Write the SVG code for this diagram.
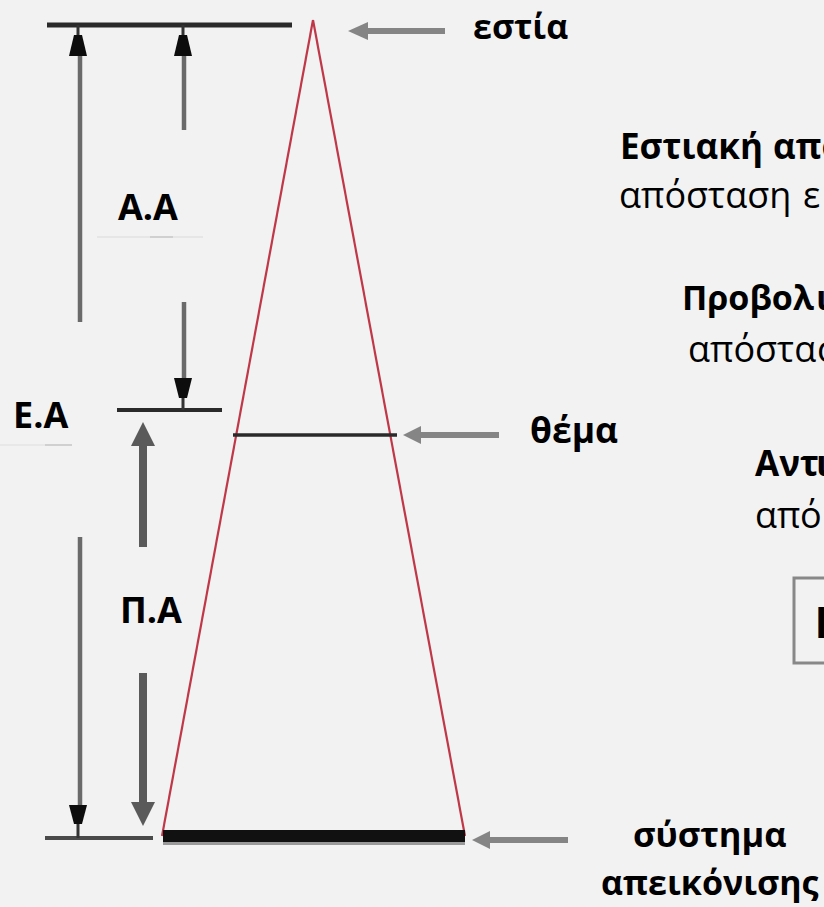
<svg xmlns="http://www.w3.org/2000/svg" width="824" height="907" viewBox="0 0 824 907">
<style>
.t{font-family:"Open Sans","Noto Sans","DejaVu Sans",sans-serif;fill:#000;font-size:34px}
.b{font-weight:bold}
.r{font-size:36px}
.lab{font-size:36px}
.ray{stroke:#c03848;stroke-width:2.2;fill:none}
.dim{stroke:#6a6a6a;stroke-width:4.5;fill:none}
.bar{stroke:#2a2a2a;fill:none}
.ptr{stroke:#858585;stroke-width:6;fill:none}
.ptrh{fill:#858585}
.big{stroke:#5a5a5a;stroke-width:8;fill:none}
.bigh{fill:#5a5a5a}
.head{fill:#0d0d0d}
</style>
<rect width="824" height="907" fill="#f2f2f2"/>
<g id="faint">
<line x1="97" y1="237" x2="203" y2="237" stroke="#e2e2e2" stroke-width="1.5"/>
<line x1="150" y1="237" x2="173" y2="237" stroke="#c8c8c8" stroke-width="1.5"/>
<line x1="0" y1="445" x2="72" y2="445" stroke="#e4e4e4" stroke-width="1.5"/>
<line x1="45" y1="445" x2="72" y2="445" stroke="#c8c8c8" stroke-width="1.5"/>
</g>
<g id="focus">
<line class="bar" x1="47" y1="25" x2="292" y2="25" stroke-width="5"/>
<text class="t b" x="473" y="39">εστία</text>
</g>
<g id="rays">
<line class="ray" x1="313" y1="20" x2="162" y2="836"/>
<line class="ray" x1="313" y1="20" x2="465" y2="836"/>
</g>
<g id="object">
<line class="bar" x1="233" y1="435" x2="397" y2="435" stroke-width="3.5"/>
<text class="t b" x="530" y="443" style="font-size:35.5px">θέμα</text>
</g>
<g id="object-level">
<line class="bar" x1="117" y1="410" x2="222" y2="410" stroke-width="4"/>
</g>
<g id="detector">
<rect x="163" y="830" width="302" height="12" fill="#111"/>
<rect x="163" y="842" width="302" height="3" fill="#9a9a9a"/>
<line x1="45" y1="838" x2="153" y2="838" stroke="#4a4a4a" stroke-width="4"/>
<text class="t b" x="633" y="847" style="font-size:34.5px">σύστημα</text>
<text class="t b" x="601" y="895">απεικόνισης</text>
</g>
<g id="labels">
<text class="t b lab" x="118" y="220">Α.Α</text>
<text class="t b lab" x="13" y="428">Ε.Α</text>
<text class="t b lab" x="120" y="623">Π.Α</text>
</g>
<g id="legend">
<text class="t b" x="620" y="159" style="font-size:35px">Εστιακή <tspan x="773">απο</tspan></text>
<text class="t r" x="619" y="208">απόσταση <tspan x="803">ε</tspan></text>
<text class="t b" x="682" y="310">Προβολ<tspan x="816">ι</tspan></text>
<text class="t r" x="688" y="362">απόστα<tspan x="817">σ</tspan></text>
<text class="t b" x="755" y="476" style="font-size:35px">Αντ<tspan x="816">ι</tspan></text>
<text class="t r" x="755" y="528">απ<tspan x="800">ό</tspan></text>
<rect x="794" y="578" width="60" height="85" fill="none" stroke="#888" stroke-width="3"/>
<text class="t b" x="814.5" y="638" style="font-size:43px">Ε</text>
</g>
<g id="connectors">
<line class="dim" x1="80" y1="40" x2="80" y2="322"/>
<line class="dim" x1="80" y1="537" x2="80" y2="815"/>
<line class="dim" x1="184" y1="40" x2="184" y2="130"/>
<line class="dim" x1="184" y1="302" x2="184" y2="395"/>
<line stroke="#333" stroke-width="3" x1="78" y1="25" x2="78" y2="40"/>
<line stroke="#333" stroke-width="3" x1="183" y1="25" x2="183" y2="40"/>
<line stroke="#333" stroke-width="3" x1="78" y1="820" x2="78" y2="838"/>
<line stroke="#333" stroke-width="3" x1="183" y1="396" x2="183" y2="410"/>
<path class="head" d="M74 35 L82 35 L87 56 L69 56 Z"/>
<path class="head" d="M179 35 L187 35 L192 56 L174 56 Z"/>
<path class="head" d="M69 805 L87 805 L82 824 L74 824 Z"/>
<path class="head" d="M174 378 L192 378 L187 398 L179 398 Z"/>
<line class="big" x1="143" y1="445" x2="143" y2="547"/>
<polygon class="bigh" points="143,422 131,446 155,446"/>
<line class="big" x1="143" y1="673" x2="143" y2="803"/>
<polygon class="bigh" points="131,802 155,802 143,826"/>
<line class="ptr" x1="366" y1="31" x2="445" y2="31"/>
<polygon class="ptrh" points="348,31 368,22 368,40"/>
<line class="ptr" x1="419" y1="435" x2="499" y2="435"/>
<polygon class="ptrh" points="403,435 421,426 421,444"/>
<line class="ptr" x1="488" y1="840" x2="568" y2="840"/>
<polygon class="ptrh" points="472,840 490,831 490,849"/>
</g>
</svg>
